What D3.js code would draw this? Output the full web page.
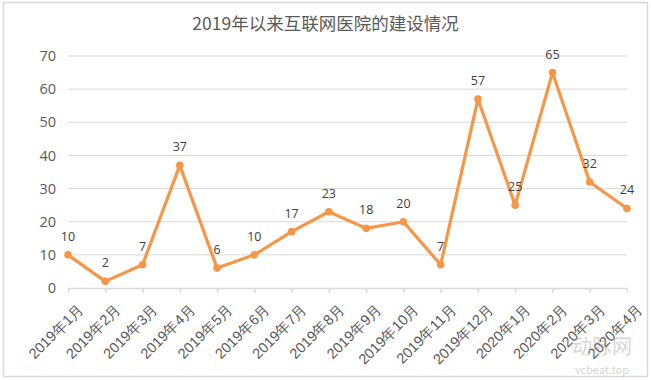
<!DOCTYPE html>
<html><head><meta charset="utf-8">
<script src="https://cdn.jsdelivr.net/npm/d3@7"></script>
<style>body{margin:0;background:#fff;}svg{display:block;font-family:"Noto Sans CJK SC","Noto Sans",sans-serif;}</style>
</head><body>
<svg id="c" width="651" height="380"></svg>
<script>
const title = "2019年以来互联网医院的建设情况";
const categories = ["2019年1月","2019年2月","2019年3月","2019年4月","2019年5月","2019年6月","2019年7月","2019年8月","2019年9月","2019年10月","2019年11月","2019年12月","2020年1月","2020年2月","2020年3月","2020年4月"];
const values = [10,2,7,37,6,10,17,23,18,20,7,57,25,65,32,24];
const yTicks = [0,10,20,30,40,50,60,70];

const svg = d3.select("#c");
const W = 651, H = 380;
const m = {l:68, r:24, t:56, b:92};

svg.append("rect").attr("x",3.5).attr("y",2.5).attr("width",W-7).attr("height",H-6)
  .attr("fill","#fff").attr("stroke","#d9d9d9").attr("stroke-width",1.5);

const x = d3.scalePoint().domain(categories).range([m.l, W-m.r]);
const y = d3.scaleLinear().domain([0,70]).range([H-m.b, m.t]);

svg.append("text").attr("x",W/2).attr("y",30).attr("text-anchor","middle")
  .attr("font-size",17.5).attr("fill","#595959").text(title);

// gridlines
svg.append("g").selectAll("line").data(yTicks.filter(d=>d>0)).join("line")
  .attr("x1",m.l).attr("x2",W-m.r).attr("y1",d=>y(d)).attr("y2",d=>y(d))
  .attr("stroke","#d9d9d9").attr("stroke-width",1);

// y axis labels
const ya = svg.append("g").attr("transform",`translate(${m.l},0)`)
  .call(d3.axisLeft(y).tickValues(yTicks).tickSize(0).tickPadding(12).tickFormat(d3.format("d")));
ya.select(".domain").remove();
ya.selectAll("text").attr("font-size",14.5).attr("fill","#595959").attr("font-family","'Open Sans','Noto Sans',sans-serif");

// x axis
const xa = svg.append("g").attr("transform",`translate(0,${y(0)})`)
  .call(d3.axisBottom(x).tickSizeInner(5).tickSizeOuter(0).tickPadding(4));
xa.select(".domain").attr("stroke","#d9d9d9").attr("stroke-width",1.5);
xa.selectAll(".tick line").attr("stroke","#d9d9d9").attr("stroke-width",1.5);
xa.selectAll("text").attr("font-size",14.5).attr("fill","#595959")
  .attr("text-anchor","end").attr("dy","0.35em")
  .attr("transform","translate(6,12) rotate(-45)");

// line
const line = d3.line().x((d,i)=>x(categories[i])).y(d=>y(d));
svg.append("path").datum(values).attr("d",line).attr("fill","none")
  .attr("stroke","#F79646").attr("stroke-width",3.2).attr("stroke-linejoin","round");

svg.append("g").selectAll("circle").data(values).join("circle")
  .attr("cx",(d,i)=>x(categories[i])).attr("cy",d=>y(d)).attr("r",3.8).attr("fill","#F79646");

svg.append("g").selectAll("text").data(values).join("text")
  .attr("x",(d,i)=>x(categories[i])).attr("y",d=>y(d)-14)
  .attr("text-anchor","middle").attr("font-size",12.5).attr("fill","#404040")
  .attr("font-family","'Open Sans','Noto Sans',sans-serif")
  .text(d=>d);

// watermark
svg.append("text").attr("x",602).attr("y",354).attr("text-anchor","middle")
  .attr("font-size",20).attr("fill","#9a9a9a").attr("opacity",0.4).text("动脉网");
svg.append("text").attr("x",602).attr("y",374).attr("text-anchor","middle")
  .attr("font-size",11).attr("fill","#9a9a9a").attr("opacity",0.4).text("vcbeat.top");
</script>
</body></html>
